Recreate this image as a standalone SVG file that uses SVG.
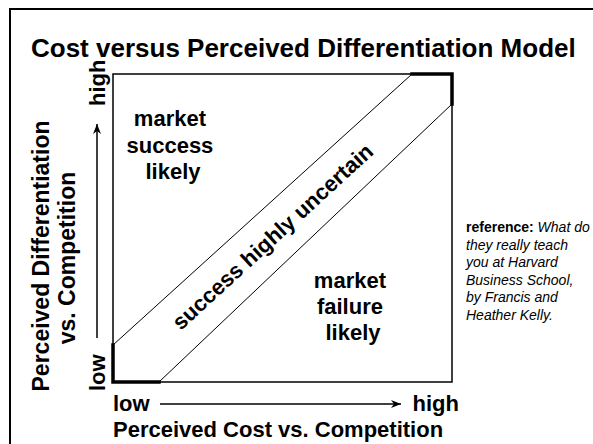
<svg xmlns="http://www.w3.org/2000/svg" width="593" height="444" viewBox="0 0 593 444">
  <defs>
    <marker id="arrow" viewBox="0 0 10 10" refX="10" refY="5" markerWidth="10" markerHeight="10" markerUnits="userSpaceOnUse" orient="auto">
      <path d="M0,1 L10,5 L0,9 L3,5 Z" fill="#000"/>
    </marker>
    <style>
      .lbl { font-family: "Liberation Sans", Arial, sans-serif; font-weight: bold; fill: #000; }
      .ref { font-family: "Liberation Sans", Arial, sans-serif; font-size: 14px; font-style: italic; fill: #000; }
      .thin { fill: none; stroke: #000; stroke-width: 1; }
      .edge { fill: none; stroke: #000; stroke-width: 1.5; }
      .heavy { fill: none; stroke: #000; stroke-width: 3.5; stroke-linecap: square; }
      .axis { fill: none; stroke: #000; stroke-width: 1.5; }
    </style>
  </defs>
  <rect width="593" height="444" fill="#fff"/>

  <!-- slide frame -->
  <path d="M10,444 V9 H593" fill="none" stroke="#000" stroke-width="2"/>

  <text class="lbl" x="31" y="57" font-size="26">Cost versus Perceived Differentiation Model</text>

  <!-- grid box with the diagonal band -->
  <g id="grid">
    <rect class="edge" x="113" y="74" width="339" height="308"/>
    <path class="heavy" d="M113,345 V382 H159"/>
    <path class="heavy" d="M412,74 H452 V104"/>
  </g>
  <g id="connectors">
    <line class="thin" x1="113" y1="345" x2="412" y2="74"/>
    <line class="thin" x1="159" y1="382" x2="452" y2="104"/>
    <line class="axis" x1="97" y1="338" x2="97" y2="124" marker-end="url(#arrow)"/>
    <line class="axis" x1="160" y1="404" x2="401" y2="404" marker-end="url(#arrow)"/>
  </g>

  <g id="success-region">
    <text class="lbl" font-size="22" text-anchor="middle">
      <tspan x="173" y="126">market</tspan>
      <tspan x="173" y="153">success</tspan>
      <tspan x="173" y="179">likely</tspan>
    </text>
  </g>

  <g id="failure-region">
    <text class="lbl" font-size="22" text-anchor="middle">
      <tspan x="353" y="288">market</tspan>
      <tspan x="353" y="314">failure</tspan>
      <tspan x="353" y="340">likely</tspan>
    </text>
  </g>

  <g id="uncertain-band">
    <text class="lbl" font-size="22" text-anchor="middle" transform="translate(273,237) rotate(-42.5)" x="0" y="7">success highly uncertain</text>
  </g>

  <g id="y-axis">
    <text class="lbl" font-size="22" transform="translate(105,391) rotate(-90)">low</text>
    <text class="lbl" font-size="22" transform="translate(105,106) rotate(-90)">high</text>
    <text class="lbl" font-size="23" text-anchor="middle" transform="translate(49,256) rotate(-90)">Perceived Differentiation</text>
    <text class="lbl" font-size="23" text-anchor="middle" transform="translate(75,258) rotate(-90)">vs. Competition</text>
  </g>

  <g id="x-axis">
    <text class="lbl" font-size="22" x="113" y="411">low</text>
    <text class="lbl" font-size="22" x="459" y="411" text-anchor="end">high</text>
    <text class="lbl" font-size="22" x="113" y="437">Perceived Cost vs. Competition</text>
  </g>

  <g id="reference-note">
    <text class="ref">
      <tspan x="466" y="232"><tspan font-weight="bold" font-style="normal">reference:</tspan> What do</tspan>
      <tspan x="466" y="249.5">they really teach</tspan>
      <tspan x="466" y="267">you at Harvard</tspan>
      <tspan x="466" y="284.5">Business School,</tspan>
      <tspan x="466" y="302">by Francis and</tspan>
      <tspan x="466" y="319.5">Heather Kelly.</tspan>
    </text>
  </g>
</svg>
